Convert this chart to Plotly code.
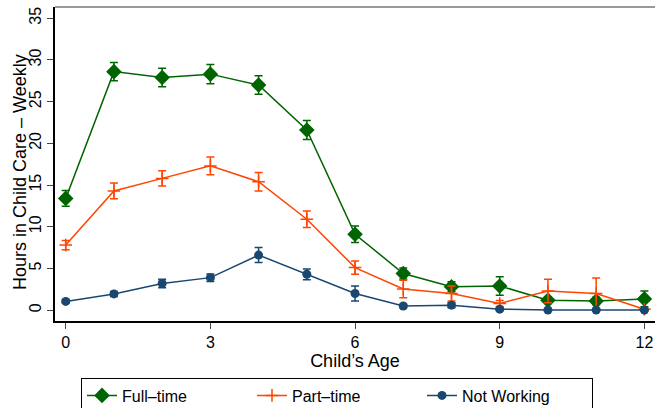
import plotly.graph_objects as go

ages = list(range(13))
full_time = [13.4, 28.6, 27.9, 28.3, 27.0, 21.6, 9.1, 4.4, 2.8, 2.9, 1.2, 1.1, 1.35]
full_err = [0.95, 1.1, 1.1, 1.15, 1.1, 1.15, 1.0, 0.65, 0.6, 1.1, 0.4, 0.45, 0.95]
part_time = [7.8, 14.3, 15.8, 17.3, 15.4, 10.9, 5.1, 2.55, 2.0, 0.8, 2.3, 2.0, 0.1]
part_err = [0.55, 0.95, 0.92, 1.05, 1.1, 1.0, 0.8, 1.05, 0.9, 0.35, 1.4, 1.85, 0.2]
not_working = [1.05, 1.95, 3.2, 3.9, 6.6, 4.3, 2.0, 0.5, 0.6, 0.12, 0.02, 0.02, 0.02]
not_err = [0.2, 0.3, 0.5, 0.45, 0.9, 0.65, 0.9, 0.2, 0.3, 0.15, 0.05, 0.05, 0.05]
x_ticks = [0, 3, 6, 9, 12]
y_ticks = [0, 5, 10, 15, 20, 25, 30, 35]

GREEN = "#006400"
ORANGE = "#ff4500"
NAVY = "#1a476f"
FAMILY = "Liberation Sans, Arial, sans-serif"
TITLE_FONT = dict(family=FAMILY, size=18, color="black")
TICK_FONT = dict(family=FAMILY, size=16, color="black")

fig = go.Figure()
fig.add_trace(go.Scatter(
    x=ages, y=full_time, name="Full\u2013time", mode="lines+markers",
    line=dict(color=GREEN, width=1.5),
    marker=dict(symbol="diamond", size=12, color=GREEN),
    error_y=dict(type="data", array=full_err, color=GREEN, thickness=1.5, width=4),
))
fig.add_trace(go.Scatter(
    x=ages, y=part_time, name="Part\u2013time", mode="lines+markers",
    line=dict(color=ORANGE, width=1.5),
    marker=dict(symbol="cross-thin-open", size=9, color=ORANGE, line=dict(color=ORANGE, width=1.5)),
    error_y=dict(type="data", array=part_err, color=ORANGE, thickness=1.5, width=4),
))
fig.add_trace(go.Scatter(
    x=ages, y=not_working, name="Not Working", mode="lines+markers",
    line=dict(color=NAVY, width=1.5),
    marker=dict(symbol="circle", size=9, color=NAVY),
    error_y=dict(type="data", array=not_err, color=NAVY, thickness=1.5, width=4),
))

fig.update_layout(
    width=655, height=408,
    margin=dict(l=55, r=0, t=7, b=87, autoexpand=False),
    paper_bgcolor="white", plot_bgcolor="white",
    font=dict(family=FAMILY, size=15, color="black"),
    showlegend=True,
    legend=dict(
        orientation="h", x=0.47, xanchor="center", y=-0.18, yanchor="top",
        bordercolor="black", borderwidth=1, font=dict(family=FAMILY, size=16, color="black"),
        entrywidth=125, traceorder="normal",
    ),
    xaxis=dict(
        range=[-0.222, 12.22], tickvals=x_ticks, ticks="outside", ticklen=6,
        showline=True, linecolor="black", linewidth=1.5, showgrid=False, zeroline=False,
        tickfont=TICK_FONT,
    ),
    yaxis=dict(
        range=[-1.3, 36.35], tickvals=y_ticks, ticks="outside", ticklen=6,
        tickangle=-90,
        showline=True, linecolor="black", linewidth=1.5, showgrid=False, zeroline=False,
        tickfont=TICK_FONT,
    ),
    shapes=[dict(type="line", xref="paper", yref="paper", x0=0, x1=1, y0=1, y1=1,
                 line=dict(color="#777777", width=1.5))],
    annotations=[dict(text="Hours in Child Care \u2013 Weekly", xref="paper", yref="paper",
                      x=-0.058, y=0.475, xanchor="center", yanchor="middle",
                      textangle=-90, showarrow=False, font=TITLE_FONT)],
)
fig.update_xaxes(title_text="Child\u2019s Age", title_font=TITLE_FONT, title_standoff=2)

fig.write_html("out.html")
